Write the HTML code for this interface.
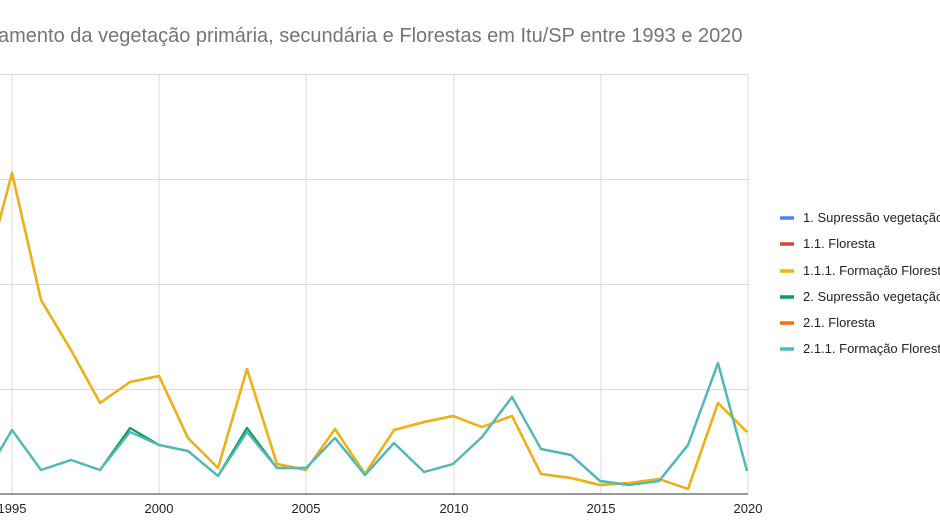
<!DOCTYPE html>
<html><head><meta charset="utf-8"><style>
html,body{margin:0;padding:0;background:#fff;width:940px;height:528px;overflow:hidden}
svg{display:block}
text{font-family:"Liberation Sans",Arial,sans-serif}
</style></head><body>
<svg width="940" height="528" viewBox="0 0 940 528">
<text x="-2" y="42" font-size="20" fill="#757575">amento da vegetação primária, secundária e Florestas em Itu/SP entre 1993 e 2020</text>
<g stroke="#d9d9d9" stroke-width="1">
<line x1="0" y1="74.5" x2="748" y2="74.5"/>
<line x1="0" y1="179.5" x2="748" y2="179.5"/>
<line x1="0" y1="284.5" x2="748" y2="284.5"/>
<line x1="0" y1="389.5" x2="748" y2="389.5"/>
<line x1="12" y1="74" x2="12" y2="494"/>
<line x1="159" y1="74" x2="159" y2="494"/>
<line x1="306" y1="74" x2="306" y2="494"/>
<line x1="454" y1="74" x2="454" y2="494"/>
<line x1="601" y1="74" x2="601" y2="494"/>
<line x1="748" y1="74" x2="748" y2="494"/>
</g>
<line x1="0" y1="494" x2="748" y2="494" stroke="#333" stroke-width="1"/>
<g font-size="13" fill="#222" text-anchor="middle">
<text x="12" y="513">1995</text><text x="159" y="513">2000</text><text x="306" y="513">2005</text>
<text x="454" y="513">2010</text><text x="601" y="513">2015</text><text x="748" y="513">2020</text>
</g>
<g fill="none" stroke-width="2.2" stroke-linejoin="round">
<polyline stroke="#4285f4" points="-17,283 12,173 41,300 71,350 100,403 130,382 159,376 188,438 218,468 247,369 277,464 306,470 335,429 365,474 394,430 424,422 453,416 482,427 512,416 541,474 571,478 600,485 629,483 659,479 688,489 718,403 747,432"/>
<polyline stroke="#db4437" points="-17,283 12,173 41,300 71,350 100,403 130,382 159,376 188,438 218,468 247,369 277,464 306,470 335,429 365,474 394,430 424,422 453,416 482,427 512,416 541,474 571,478 600,485 629,483 659,479 688,489 718,403 747,432"/>
<polyline stroke="#0f9d58" points="-17,479 12,430 41,470 71,460 100,470 130,428 159,445 188,451 218,476 247,428 277,468 306,468 335,438 365,475 394,443 424,472 453,464 482,437 512,397 541,449 571,455 600,481 629,485 659,481 688,445 718,363 747,471"/>
<polyline stroke="#ff6d01" points="-17,479 12,430 41,470 71,460 100,470 130,432 159,445 188,451 218,476 247,432 277,468 306,468 335,438 365,475 394,443 424,472 453,464 482,437 512,397 541,449 571,455 600,481 629,485 659,481 688,445 718,363 747,471"/>
<polyline stroke="#f4b400" points="-17,283 12,173 41,300 71,350 100,403 130,382 159,376 188,438 218,468 247,369 277,464 306,470 335,429 365,474 394,430 424,422 453,416 482,427 512,416 541,474 571,478 600,485 629,483 659,479 688,489 718,403 747,432"/>
<polyline stroke="#46bdc6" points="-17,479 12,430 41,470 71,460 100,470 130,432 159,445 188,451 218,476 247,432 277,468 306,468 335,438 365,475 394,443 424,472 453,464 482,437 512,397 541,449 571,455 600,481 629,485 659,481 688,445 718,363 747,471"/>
</g>
<g stroke-width="3.5">
<line x1="780" y1="218" x2="794" y2="218" stroke="#4285f4"/>
<line x1="780" y1="244" x2="794" y2="244" stroke="#db4437"/>
<line x1="780" y1="271" x2="794" y2="271" stroke="#f4b400"/>
<line x1="780" y1="297" x2="794" y2="297" stroke="#0f9d58"/>
<line x1="780" y1="323" x2="794" y2="323" stroke="#ff6d01"/>
<line x1="780" y1="349" x2="794" y2="349" stroke="#46bdc6"/>
</g>
<g font-size="13" fill="#222">
<text x="803" y="222">1. Supressão vegetação</text>
<text x="803" y="248">1.1. Floresta</text>
<text x="803" y="275">1.1.1. Formação Florestal</text>
<text x="803" y="301">2. Supressão vegetação</text>
<text x="803" y="327">2.1. Floresta</text>
<text x="803" y="353">2.1.1. Formação Florestal</text>
</g>
</svg>
</body></html>
